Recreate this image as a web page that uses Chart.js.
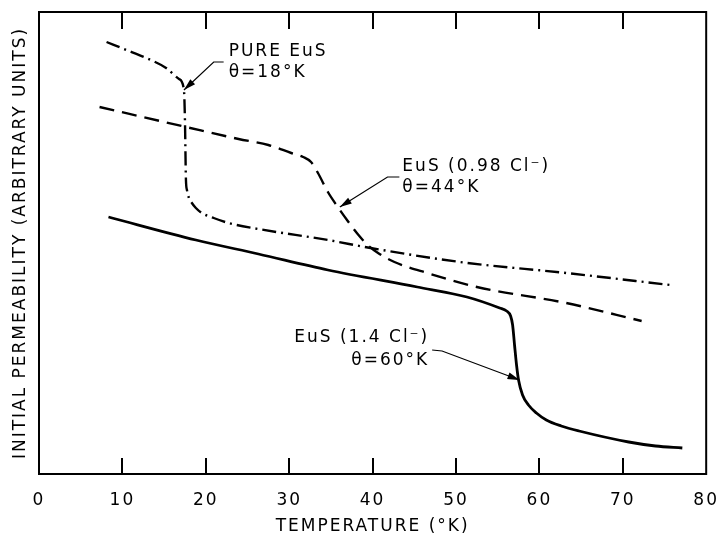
<!DOCTYPE html>
<html><head><meta charset="utf-8">
<script src="https://cdn.jsdelivr.net/npm/chart.js@4"></script>
<style>html,body{margin:0;padding:0;background:#fff}#wrap{width:725px;height:537px;position:relative}</style>
</head><body><div id="wrap"><canvas id="c" width="725" height="537"></canvas></div>
<script>
// ---- data (temperature in °K, permeability in arbitrary units) ----
const pureT = [8.10, 10.48, 12.86, 15.24, 16.79, 17.38, 17.50, 17.62, 17.74, 17.98, 18.33, 18.81, 19.52, 20.95, 22.74, 26.31, 34.64, 39.76, 50.48, 63.21, 75.71];
const pureV = [432, 424, 416, 406, 395, 384, 354, 294, 284, 276, 271, 266, 261, 256, 251, 245, 234, 226, 212, 201, 189];

const cl098T = [7.26, 17.62, 23.93, 27.50, 30.24, 31.67, 32.62, 33.45, 34.64, 35.83, 37.02, 38.21, 39.40, 40.83, 42.62, 46.55, 52.50, 63.21, 72.26];
const cl098V = [367, 347, 335, 329, 321, 317, 312, 301, 282, 267, 253, 240, 229, 220, 212, 201, 187, 171, 153];

const cl14T = [8.33, 18.81, 26.31, 34.64, 45.36, 51.31, 55.24, 56.07, 56.55, 56.79, 57.02, 57.26, 57.50, 57.98, 58.69, 59.64, 60.83, 62.62, 64.76, 70.71, 73.93, 77.14];
const cl14V = [257, 234, 220, 204, 187, 177, 166, 163, 158, 149, 129, 109, 94, 79, 69, 61, 54, 48, 43, 32, 28, 26];

const xTickValues = [0, 10, 20, 30, 40, 50, 60, 70, 80];
const xTitle = 'TEMPERATURE (°K)';
const yTitle = 'INITIAL PERMEABILITY (ARBITRARY UNITS)';

// annotation texts and anchors (data units)
const pureLabel = ['PURE EuS', 'θ=18°K'];
const pureLabelAt = [22.74, 422, 401];          // left x, line1 y, line2 y
const pureLeader = [[22.14, 412], [20.95, 412], [17.38, 384]];

const cl098Label = ['EuS (0.98 Cl⁻)', 'θ=44°K'];
const cl098LabelAt = [43.57, 307, 286];
const cl098Leader = [[43.21, 297], [41.79, 297], [36.07, 267]];

const cl14Label = ['EuS (1.4 Cl⁻)', 'θ=60°K'];
const cl14LabelAt = [46.79, 136, 113];           // right x, line1 y, line2 y
const cl14Leader = [[47.14, 124], [48.33, 123], [57.62, 94]];

const FONT = '"DejaVu Sans", sans-serif';

function pts(xs, ys) { return xs.map((x, i) => ({x: x, y: ys[i]})); }

const spacingPlugin = {
  id: 'spacing',
  beforeDraw(chart) {
    const ctx = chart.ctx;
    ctx.save();
    ctx.fillStyle = '#fff';
    ctx.fillRect(0, 0, chart.width, chart.height);
    ctx.restore();
    ctx.letterSpacing = '2px';
  }
};

const framePlugin = {
  id: 'frame',
  afterDraw(chart) {
    const ctx = chart.ctx, a = chart.chartArea, xs = chart.scales.x;
    ctx.save();
    ctx.strokeStyle = '#000';
    ctx.lineWidth = 2;
    ctx.strokeRect(a.left, a.top, a.right - a.left, a.bottom - a.top);
    ctx.beginPath();
    xTickValues.slice(1, -1).forEach(v => {
      const px = Math.round(xs.getPixelForValue(v));
      ctx.moveTo(px, a.bottom); ctx.lineTo(px, a.bottom - 16);
      ctx.moveTo(px, a.top); ctx.lineTo(px, a.top + 17);
    });
    ctx.stroke();
    ctx.restore();
  }
};

function drawLeader(ctx, xs, ys, path) {
  const p = path.map(q => [xs.getPixelForValue(q[0]), ys.getPixelForValue(q[1])]);
  ctx.beginPath();
  ctx.moveTo(p[0][0], p[0][1]);
  for (let i = 1; i < p.length; i++) ctx.lineTo(p[i][0], p[i][1]);
  ctx.lineWidth = 1.2;
  ctx.stroke();
  const t = p[p.length - 1], f = p[p.length - 2];
  const ang = Math.atan2(t[1] - f[1], t[0] - f[0]);
  const L = 12, W = 3.5;
  ctx.beginPath();
  ctx.moveTo(t[0], t[1]);
  ctx.lineTo(t[0] - L * Math.cos(ang) + W * Math.sin(ang), t[1] - L * Math.sin(ang) - W * Math.cos(ang));
  ctx.lineTo(t[0] - L * Math.cos(ang) - W * Math.sin(ang), t[1] - L * Math.sin(ang) + W * Math.cos(ang));
  ctx.closePath();
  ctx.fill();
}

const annotPlugin = {
  id: 'annot',
  afterDatasetsDraw(chart) {
    const ctx = chart.ctx, xs = chart.scales.x, ys = chart.scales.y;
    ctx.save();
    ctx.fillStyle = '#000';
    ctx.strokeStyle = '#000';
    ctx.font = '17px ' + FONT;
    ctx.letterSpacing = '2px';
    ctx.textBaseline = 'middle';
    ctx.textAlign = 'left';
    [[pureLabel, pureLabelAt], [cl098Label, cl098LabelAt]].forEach(([txt, at]) => {
      ctx.fillText(txt[0], xs.getPixelForValue(at[0]), ys.getPixelForValue(at[1]));
      ctx.fillText(txt[1], xs.getPixelForValue(at[0]), ys.getPixelForValue(at[2]));
    });
    ctx.textAlign = 'right';
    ctx.fillText(cl14Label[0], xs.getPixelForValue(cl14LabelAt[0]), ys.getPixelForValue(cl14LabelAt[1]));
    ctx.fillText(cl14Label[1], xs.getPixelForValue(cl14LabelAt[0]), ys.getPixelForValue(cl14LabelAt[2]));
    drawLeader(ctx, xs, ys, pureLeader);
    drawLeader(ctx, xs, ys, cl098Leader);
    drawLeader(ctx, xs, ys, cl14Leader);
    ctx.restore();
  }
};

const lineDefaults = {
  showLine: true, fill: false, pointRadius: 0, borderColor: '#000',
  borderWidth: 2.4, cubicInterpolationMode: 'monotone', borderCapStyle: 'butt'
};

new Chart(document.getElementById('c'), {
  type: 'scatter',
  data: {
    datasets: [
      Object.assign({label: 'Pure EuS', data: pts(pureT, pureV), borderDash: [14, 5, 2, 5]}, lineDefaults),
      Object.assign({label: 'EuS (0.98 Cl-)', data: pts(cl098T, cl098V), borderDash: [15, 8]}, lineDefaults),
      Object.assign({label: 'EuS (1.4 Cl-)', data: pts(cl14T, cl14V)}, lineDefaults, {borderWidth: 2.8})
    ]
  },
  options: {
    responsive: false,
    animation: false,
    devicePixelRatio: 1,
    layout: {padding: {top: 12, right: 14, left: 0, bottom: 0}},
    plugins: {legend: {display: false}, tooltip: {enabled: false}},
    scales: {
      x: {
        type: 'linear', min: 0, max: 80,
        afterBuildTicks: s => { s.ticks = xTickValues.map(v => ({value: v})); },
        afterFit: s => { s.height = 63; },
        grid: {display: false},
        border: {display: false},
        ticks: {color: '#000', font: {family: FONT, size: 17}, padding: 8, maxRotation: 0},
        title: {display: true, text: xTitle, color: '#000', font: {family: FONT, size: 17}, padding: {top: 0, bottom: 0}}
      },
      y: {
        type: 'linear', min: 0, max: 462,
        afterFit: s => { s.width = 39; },
        grid: {display: false},
        border: {display: false},
        ticks: {display: false},
        title: {display: true, text: yTitle, color: '#000', font: {family: FONT, size: 17}, padding: {top: 10, bottom: 0}}
      }
    }
  },
  plugins: [spacingPlugin, framePlugin, annotPlugin]
});
</script>
</body></html>
